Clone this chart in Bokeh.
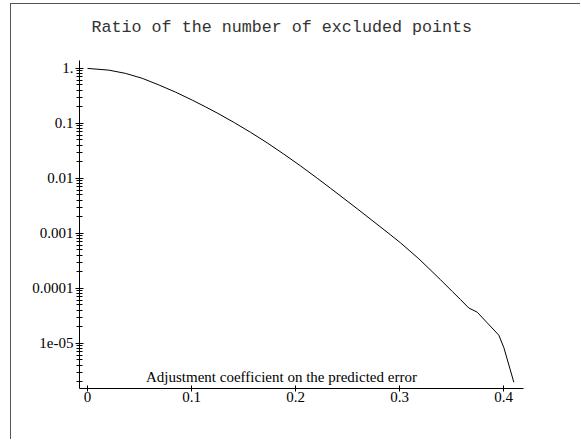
from bokeh.plotting import figure
from bokeh.models import FixedTicker, Label, Title
from bokeh.embed import file_html
from bokeh.resources import INLINE

# ---- data ----
coef = [0, 0.0205, 0.0365, 0.0526, 0.0686, 0.0846, 0.1007, 0.1135, 0.1253, 0.1413,
        0.1567, 0.1728, 0.1888, 0.2048, 0.2209, 0.2337, 0.2593, 0.2913, 0.301, 0.3186,
        0.3394, 0.3507, 0.3587, 0.3666, 0.3747, 0.3843, 0.3955, 0.4003, 0.4099]
ratio = [1.0, 0.931, 0.813, 0.661, 0.501, 0.371, 0.2655, 0.200, 0.1524, 0.1030,
         0.0690, 0.0443, 0.0276, 0.0169, 0.01007, 0.00661, 0.00281, 0.000944, 0.000673, 0.000345,
         1.44e-4, 8.8e-5, 6.25e-5, 4.4e-5, 3.7e-5, 2.37e-5, 1.41e-5, 8.4e-6, 1.97e-6]

x_ticks = [0, 0.1, 0.2, 0.3, 0.4]
x_tick_labels = ["0", "0.1", "0.2", "0.3", "0.4"]
y_ticks = [1, 0.1, 0.01, 0.001, 0.0001, 1e-05]
y_tick_labels = ["1.", "0.1", "0.01", "0.001", "0.0001", "1e-05"]
y_minor = [m * 10.0 ** e for e in range(-6, 1) for m in range(2, 10)]

title_text = "Ratio of the number of excluded points"
x_caption = "Adjustment coefficient on the predicted error"

p = figure(width=570, height=436, y_axis_type="log",
           x_range=(-0.00769, 0.4192), y_range=(10 ** -5.82, 10 ** 0.144),
           output_backend="svg", toolbar_location=None,
           min_border_left=68, min_border_right=58, min_border_top=53, min_border_bottom=52)
p.styles = {"border-left": "1px solid #555555", "border-top": "1px solid #555555",
            "margin-left": "10px", "margin-top": "3px"}

p.grid.visible = False
p.outline_line_color = None
p.background_fill_color = "white"
p.border_fill_color = "white"

p.title.text = title_text
p.title.text_font = "Liberation Mono"
p.title.text_font_style = "normal"
p.title.text_font_size = "16.7px"
p.title.text_color = "#333333"
p.title.align = "left"
p.title.offset = 12
p.title.standoff = 22

# empty spacer panel between the title and the frame
p.add_layout(Title(text=" ", text_font_size="1px", standoff=10), "above")

p.xaxis.ticker = FixedTicker(ticks=x_ticks)
p.xaxis.major_label_overrides = dict(zip(x_ticks, x_tick_labels))
p.yaxis.ticker = FixedTicker(ticks=y_ticks, minor_ticks=y_minor)
p.yaxis.major_label_overrides = dict(zip(y_ticks, y_tick_labels))

for ax in (p.xaxis, p.yaxis):
    ax.axis_line_color = "black"
    ax.major_tick_line_color = "black"
    ax.minor_tick_line_color = "black"
    ax.major_label_text_font = "Liberation Serif"
    ax.major_label_text_font_size = "15px"
    ax.major_label_text_color = "black"

p.xaxis.major_tick_in = 3
p.xaxis.major_tick_out = 3
p.xaxis.minor_tick_line_color = None
p.xaxis.major_label_standoff = 0

p.yaxis.major_tick_in = 4
p.yaxis.major_tick_out = 4
p.yaxis.minor_tick_in = 3
p.yaxis.minor_tick_out = 3
p.yaxis.major_label_standoff = 2

p.line(coef, ratio, line_color="black", line_width=1)

p.add_layout(Label(x=0.1865, y=10 ** -5.604, text=x_caption, text_align="center",
                   text_baseline="alphabetic", text_font="Liberation Serif",
                   text_font_size="15px", text_color="black"))

open("out.html", "w").write(file_html(p, INLINE))
